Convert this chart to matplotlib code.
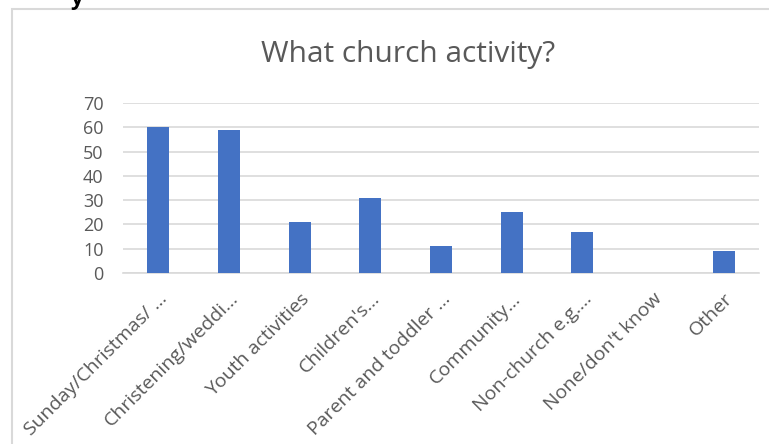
import matplotlib.pyplot as plt
from matplotlib.patches import Rectangle
import numpy as np

# data
categories = ['Sunday/Christmas/ …', 'Christening/weddi…', 'Youth activities',
              "Children's…", 'Parent and toddler …', 'Community…',
              'Non-church e.g.…', "None/don't know", 'Other']
values = [60, 59, 21, 31, 11, 25, 17, 0, 9]
yticks = [0, 10, 20, 30, 40, 50, 60, 70]

plt.rcParams['font.family'] = ['Open Sans', 'DejaVu Sans']
txt = '#595959'
grid = '#d9d9d9'

fig = plt.figure(figsize=(7.69, 4.44), dpi=100)

# chart frame (cut off at right and bottom)
fig.patches.append(Rectangle((12 / 769, -0.1), 1.0, 1 - 9 / 444 + 0.1,
                             transform=fig.transFigure, fill=False,
                             edgecolor=grid, linewidth=1.5))
# leftover glyph from the page above
fig.text(70 / 769, 1.0, 'y', fontsize=16, color='black', va='center',
         fontweight='bold')

ax = fig.add_axes([123 / 769, 1 - 273 / 444, (759 - 123) / 769, (273 - 103) / 444])
x = np.arange(len(categories))
ax.bar(x, values, width=0.31, color='#4472C4', zorder=3)

ax.set_xlim(-0.5, len(categories) - 0.5)
ax.set_ylim(0, 70)
ax.set_yticks(yticks)
ax.yaxis.grid(True, color=grid, linewidth=1.2, zorder=0)
for s in ['top', 'right', 'left']:
    ax.spines[s].set_visible(False)
ax.spines['bottom'].set_color(grid)
ax.spines['bottom'].set_linewidth(1.2)
ax.tick_params(axis='both', length=0, colors=txt, labelsize=13)
ax.tick_params(axis='y', pad=14)
ax.tick_params(axis='x', pad=12, labelsize=14)
ax.set_xticks(x)
ax.set_xticklabels(categories, rotation=45, ha='right', rotation_mode='anchor')
for lab in ax.get_xticklabels():
    lab.set_color(txt)

fig.text(408 / 769, 1 - 62 / 444, 'What church activity?', fontsize=21.5,
         color=txt, ha='center', va='baseline')

fig.savefig('out.png', dpi=100)
